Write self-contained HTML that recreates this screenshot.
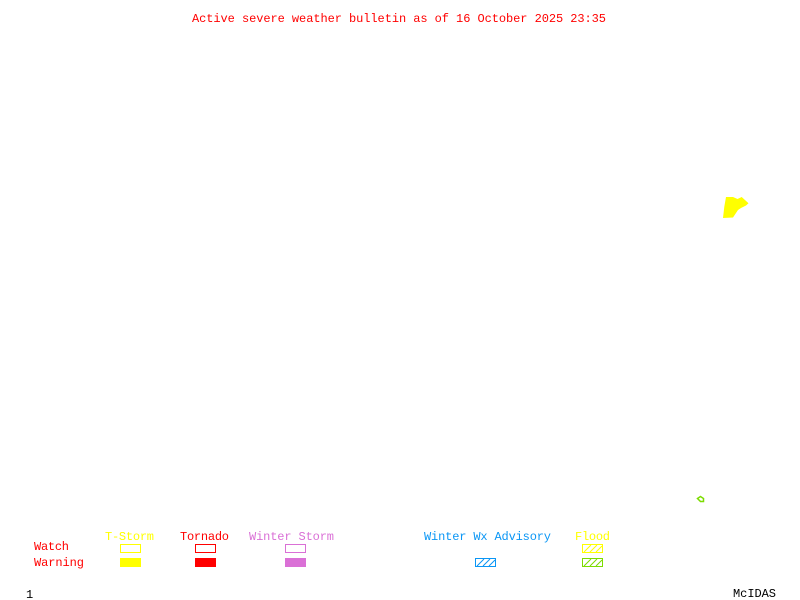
<!DOCTYPE html>
<html>
<head>
<meta charset="utf-8">
<title>Active severe weather bulletin</title>
<style>
html,body{margin:0;padding:0;background:#fff;width:800px;height:600px;overflow:hidden}
svg{display:block}
text{font-family:"Liberation Mono",monospace;font-size:12px;white-space:pre}
</style>
</head>
<body>
<svg width="800" height="600" viewBox="0 0 800 600" xmlns="http://www.w3.org/2000/svg">
<rect width="800" height="600" fill="#fff"/>
<text x="192" y="22" fill="#f00" textLength="414">Active severe weather bulletin as of 16 October 2025 23:35</text>

<polygon points="726,197 733,197 737.5,199 741.7,197 748.5,203.3 746,205.5 741,208 738,210 733,217.5 723,218 724.3,206.7" fill="#ff0"/>
<polygon points="697.5,498.5 700.5,496.5 703.5,498.5 703.5,501.5 700.5,501.5" fill="none" stroke="#7cdc00" stroke-width="1.5"/>

<text x="105" y="540" fill="#ff0" textLength="49">T-Storm</text>
<text x="180" y="540" fill="#f00" textLength="49">Tornado</text>
<text x="249" y="540" fill="#da70d6" textLength="85">Winter Storm</text>
<text x="424" y="540" fill="#0a96f5" textLength="127">Winter Wx Advisory</text>
<text x="575" y="540" fill="#ff0" textLength="35">Flood</text>
<text x="34" y="550" fill="#f00" textLength="35">Watch</text>
<text x="34" y="566" fill="#f00" textLength="50">Warning</text>
<text x="26" y="598" fill="#000">1</text>
<text x="733" y="597" fill="#000" textLength="43">McIDAS</text>

<g shape-rendering="crispEdges">
<rect x="120.5" y="544.5" width="20" height="8" fill="none" stroke="#ff0"/>
<rect x="120" y="558" width="21" height="9" fill="#ff0"/>
<rect x="195.5" y="544.5" width="20" height="8" fill="none" stroke="#f00"/>
<rect x="195" y="558" width="21" height="9" fill="#f00"/>
<rect x="285.5" y="544.5" width="20" height="8" fill="none" stroke="#da70d6"/>
<rect x="285" y="558" width="21" height="9" fill="#da70d6"/>
</g>

<g stroke="#0a96f5" fill="none">
<path d="M477,566 L484,559 M483,566 L490,559 M489,566 L495,560" stroke-width="1"/>
<rect x="475.5" y="558.5" width="20" height="8" shape-rendering="crispEdges"/>
</g>
<g stroke="#ff0" fill="none">
<path d="M584,552 L591,545 M590,552 L597,545 M596,552 L602,546" stroke-width="1"/>
<rect x="582.5" y="544.5" width="20" height="8" shape-rendering="crispEdges"/>
</g>
<g stroke="#7cdc00" fill="none">
<path d="M584,566 L591,559 M590,566 L597,559 M596,566 L602,560" stroke-width="1"/>
<rect x="582.5" y="558.5" width="20" height="8" shape-rendering="crispEdges"/>
</g>
</svg>
</body>
</html>
